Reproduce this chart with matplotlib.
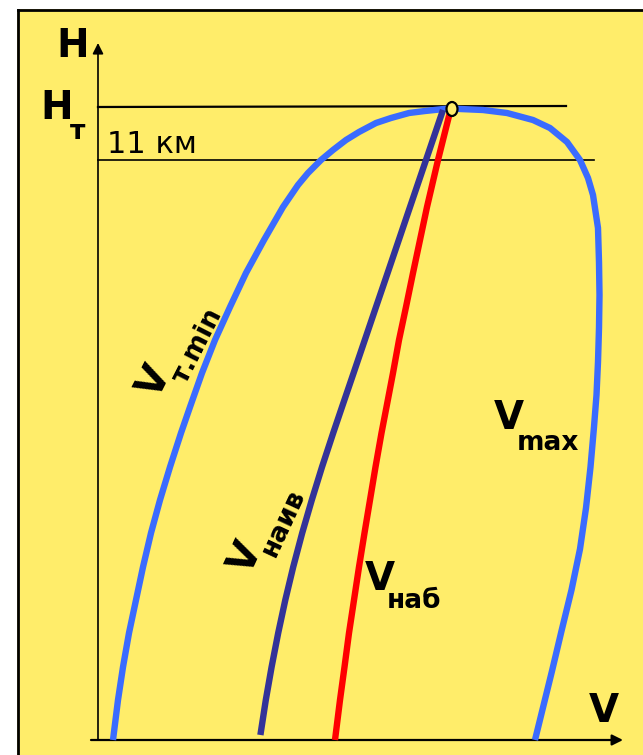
import matplotlib
matplotlib.use("Agg")
import matplotlib.pyplot as plt
from matplotlib.patches import Ellipse, Rectangle
import numpy as np

# ---- data (picture-unit readings; V grows right, H grows up) ----
X0, Y0 = 98, 740  # axes corner in picture pixels

vtmin_y = [740, 700, 667, 633, 600, 567, 533, 500, 467, 433, 407, 373, 340, 307,
           273, 240, 207, 185, 173, 160, 150, 140, 132, 123, 118, 113, 111, 109, 108.5]
vtmin_x = [113, 118, 123, 129, 136, 143, 151, 160, 170, 181, 190, 202, 215, 230,
           246, 264, 283, 298, 308, 321, 333, 346, 359, 376, 391, 409, 425, 444, 452]

vmax_y = [108.5, 109, 110, 113, 120, 128, 142, 160, 178, 195, 228, 262, 295, 328,
          362, 395, 427, 467, 508, 549, 590, 631, 671, 740]
vmax_x = [452, 460, 483, 507, 533, 550, 567, 580, 588, 593, 598, 599, 599.5, 599,
          598, 596.5, 594, 590.5, 586, 580, 571.5, 561.5, 552, 535]

vnaiv_y = [110, 140, 160, 207, 240, 273, 307, 340, 373, 407, 433, 467, 500, 533,
           567, 600, 633, 667, 700, 735]
vnaiv_x = [443, 432.8, 426, 410, 398.8, 387.6, 376, 364.8, 353.6, 342, 333.2, 322,
           311.8, 302.2, 293.2, 285.3, 278.2, 271.6, 265.8, 260.4]

vnab_y = [112, 160, 207, 240, 273, 307, 340, 373, 407, 433, 467, 500, 533, 567,
          600, 633, 667, 700, 740]
vnab_x = [450, 438, 427, 420, 413, 406, 399, 393, 386.5, 381.5, 375.5, 370, 364.5,
          359, 354, 349, 344.5, 340, 335]

H_T = 740 - 107      # tropopause level
H_11 = 740 - 160     # 11 km level
PEAK = (452 - X0, 740 - 109)


def V(xs):
    return np.array(xs, dtype=float) - X0


def H(ys):
    return Y0 - np.array(ys, dtype=float)


W, Hh = 643, 755
fig = plt.figure(figsize=(W / 100, Hh / 100), dpi=100)
fig.patch.set_facecolor("white")
ax = fig.add_axes([0, 0, 1, 1])
ax.set_xlim(-X0, W - X0)
ax.set_ylim(Y0 - Hh, Y0)
ax.axis("off")

YEL = "#FFED6A"
BLUE = "#3A6BFF"
NAVY = "#333399"
RED = "#FF0000"

# background panel with black border (left / top)
ax.add_patch(Rectangle((17 - X0, Y0 - Hh - 5), W + 10, Hh - 4,
                       facecolor=YEL, edgecolor="none", zorder=0))
ax.plot([17.5 - X0, 17.5 - X0], [Y0 - Hh - 5, Y0 - 9.5], color="black", lw=2, zorder=1)
ax.plot([17.5 - X0, W - X0 + 5], [Y0 - 9.5, Y0 - 9.5], color="black", lw=2, zorder=1)

# axes with arrows
ax.annotate("", xy=(0, Y0 - 43), xytext=(0, 0),
            arrowprops=dict(arrowstyle="-|>", color="black", lw=1.2,
                            mutation_scale=16, shrinkA=0, shrinkB=0), zorder=2)
ax.annotate("", xy=(623 - X0, 0), xytext=(91 - X0, 0),
            arrowprops=dict(arrowstyle="-|>", color="black", lw=1.6,
                            mutation_scale=16, shrinkA=0, shrinkB=0), zorder=2)

# reference lines
ax.plot([0, 566 - X0], [H_T, H_T + 1], color="black", lw=1.6, zorder=2)
ax.plot([0, 594 - X0], [H_11, H_11], color="black", lw=1.2, zorder=2)

# curves
kw = dict(lw=4.6, solid_capstyle="butt", solid_joinstyle="round")
ax.plot(V(vtmin_x), H(vtmin_y), color=BLUE, zorder=3, **kw)
ax.plot(V(vmax_x), H(vmax_y), color=BLUE, zorder=3, **kw)
ax.plot(V(vnaiv_x), H(vnaiv_y), color=NAVY, zorder=4, **kw)
ax.plot(V(vnab_x), H(vnab_y), color=RED, zorder=4, **kw)

ax.add_patch(Ellipse(PEAK, 11, 14, facecolor=YEL, edgecolor="black", lw=1.6, zorder=6))

# labels
BIG = dict(fontsize=28, fontweight="bold", color="black", family="DejaVu Sans",
           ha="center", va="center", zorder=7)
SUB = dict(fontsize=19, fontweight="bold", color="black", family="DejaVu Sans",
           ha="center", va="center", zorder=7)


def T(x, y, s, st, rot=0):
    ax.text(x - X0, Y0 - y, s, rotation=rot, rotation_mode="anchor", **st)


T(73, 46, "H", BIG)
T(57, 108, "H", BIG)
T(78, 132, "т", SUB)
ax.text(107 - X0, Y0 - 153, "11 км", fontsize=22, color="black",
        family="DejaVu Sans", ha="left", va="baseline", zorder=7)
T(604, 711, "V", BIG)

T(155, 382, "V", BIG, 63)
T(198, 346, "т.min", SUB, 63)

T(246, 558, "V", BIG, 65)
T(283, 523, "наив", SUB, 65)

T(380, 579, "V", BIG)
T(414, 601, "наб", SUB)

T(509, 418, "V", BIG)
T(548, 443, "max", SUB)

fig.savefig("out.png", dpi=100, facecolor="white")
